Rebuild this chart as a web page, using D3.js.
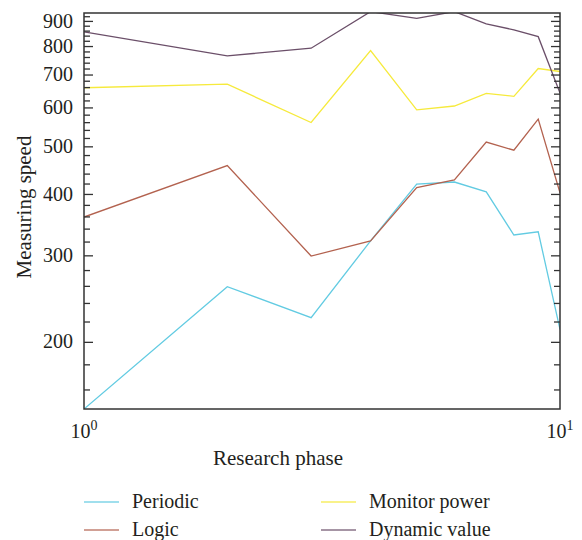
<!DOCTYPE html>
<html>
<head>
<meta charset="utf-8">
<script src="https://cdn.jsdelivr.net/npm/d3@7"></script>
<style>
  body { margin: 0; background: #fff; }
  svg { display: block; }
</style>
</head>
<body>
<div class="chart"></div>
<script>
// research phase (x) and the four series (y, log scale)
const phases = [1, 2, 3, 4, 5, 6, 7, 8, 9, 10];
const periodic = [146, 259, 224, 321, 419, 423, 404, 330, 335, 212];
const logic = [359, 457, 299, 321, 412, 427, 510, 491, 568, 402];
const monitorPower = [658, 669, 559, 783, 593, 604, 641, 632, 720, 710];
const dynamicValue = [855, 764, 792, 940, 911, 940, 888, 863, 836, 642];
const seriesNames = ['Periodic', 'Logic', 'Monitor power', 'Dynamic value'];
const seriesColors = ['#62cbe2', '#b3624f', '#f6ea3c', '#6b4f69'];
const yMajor = [200, 300, 400, 500, 600, 700, 800, 900];

function draw_chart() {
    const width = 582, height = 540;
    const fontFamily = '"Liberation Serif", "DejaVu Serif", serif';
    const left = 84, right = 560, top = 13, bottom = 409;

    const svg = d3.select('.chart')
        .append('svg')
        .attr('width', width)
        .attr('height', height)
        .attr('font-family', fontFamily);

    const x = d3.scaleLog().domain([1, 10]).range([left, right]);
    const y = d3.scaleLog().domain([146, 934]).range([bottom, top]);

    svg.append('clipPath').attr('id', 'clip')
        .append('rect')
        .attr('x', left).attr('y', top)
        .attr('width', right - left).attr('height', bottom - top);

    const allSeries = [periodic, logic, monitorPower, dynamicValue];

    const line = d3.line()
        .x((d, i) => x(phases[i]))
        .y(d => y(d));

    svg.append('g')
        .attr('clip-path', 'url(#clip)')
        .selectAll('path')
        .data(allSeries)
        .join('path')
        .attr('d', d => line(d))
        .attr('fill', 'none')
        .attr('stroke', (d, i) => seriesColors[i])
        .attr('stroke-width', 1.3);

    // minor ticks every 20
    const minor = d3.range(160, 934, 20).filter(v => !yMajor.includes(v));

    const axisL = svg.append('g').attr('transform', `translate(${left},0)`);
    axisL.call(d3.axisRight(y).tickValues(yMajor).tickSize(9).tickFormat(''))
        .call(g => g.select('.domain').remove());
    axisL.append('g')
        .call(d3.axisRight(y).tickValues(minor).tickSize(6).tickFormat(''))
        .call(g => g.select('.domain').remove());

    const axisR = svg.append('g').attr('transform', `translate(${right},0)`);
    axisR.call(d3.axisLeft(y).tickValues(yMajor).tickSize(9).tickFormat(''))
        .call(g => g.select('.domain').remove());
    axisR.append('g')
        .call(d3.axisLeft(y).tickValues(minor).tickSize(6).tickFormat(''))
        .call(g => g.select('.domain').remove());

    svg.selectAll('.tick line')
        .attr('stroke', '#333')
        .attr('stroke-width', 1.3);

    // y tick labels
    svg.append('g')
        .attr('font-size', 20)
        .attr('fill', '#231f20')
        .attr('text-anchor', 'end')
        .selectAll('text')
        .data(yMajor)
        .join('text')
        .attr('x', left - 11)
        .attr('y', d => y(d))
        .attr('dy', '0.33em')
        .text(d => d);

    // frame
    svg.append('rect')
        .attr('x', left).attr('y', top)
        .attr('width', right - left).attr('height', bottom - top)
        .attr('fill', 'none')
        .attr('stroke', '#333')
        .attr('stroke-width', 1.5);

    // x tick labels 10^0, 10^1
    const xl = svg.append('g')
        .attr('font-size', 20)
        .attr('fill', '#231f20')
        .selectAll('text')
        .data([0, 1])
        .join('text')
        .attr('x', d => x(Math.pow(10, d)))
        .attr('y', 438)
        .attr('text-anchor', 'middle');
    xl.append('tspan').text('10');
    xl.append('tspan').attr('font-size', 14).attr('dy', '-0.6em').text(d => d);

    // axis titles
    svg.append('text')
        .attr('x', 278)
        .attr('y', 465)
        .attr('text-anchor', 'middle')
        .attr('font-size', 21)
        .attr('fill', '#231f20')
        .text('Research phase');

    svg.append('text')
        .attr('transform', `translate(31, ${(top + bottom) / 2 - 4}) rotate(-90)`)
        .attr('text-anchor', 'middle')
        .attr('font-size', 21)
        .attr('fill', '#231f20')
        .text('Measuring speed');

    // legend
    const legendPos = [[84, 502], [84, 530], [321, 502], [321, 530]];
    const leg = svg.append('g')
        .selectAll('g')
        .data(seriesNames)
        .join('g')
        .attr('transform', (d, i) => `translate(${legendPos[i][0]},${legendPos[i][1]})`);
    leg.append('line')
        .attr('x1', 0).attr('x2', 35)
        .attr('stroke', (d, i) => seriesColors[i])
        .attr('stroke-opacity', 0.8)
        .attr('stroke-width', 1.5);
    leg.append('text')
        .attr('x', 48)
        .attr('dy', '0.32em')
        .attr('font-size', 20)
        .attr('fill', '#231f20')
        .text(d => d);
}

draw_chart();
</script>
</body>
</html>
